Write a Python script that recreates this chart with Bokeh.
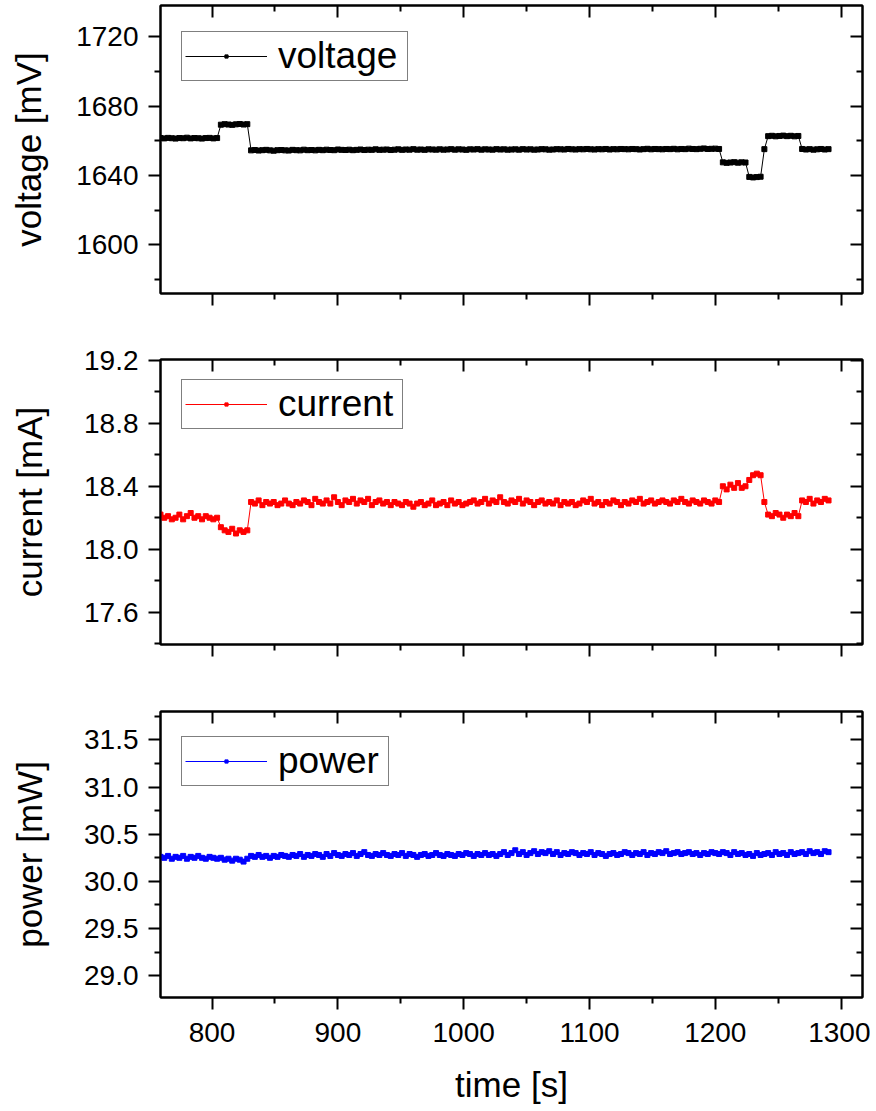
from bokeh.plotting import figure
from bokeh.models import (LinearAxis, FixedTicker, PrintfTickFormatter, CustomJSTickFormatter,
                          Range1d, Legend, LegendItem, ColumnDataSource)
from bokeh.layouts import column
from bokeh.embed import file_html
from bokeh.resources import INLINE

FONT = "Liberation Sans"

# ---------------- data ----------------
time_s = list(range(759, 1291, 3))  # sampling grid, 178 samples

voltage_mV = [
    1661.6, 1661.4, 1661.7, 1661.5, 1661.3, 1661.6, 1661.5, 1661.8, 1661.4, 1661.6, 1661.5, 1661.3, 1661.6, 1661.7, 1661.4, 1661.6,
    1669.3, 1669.6, 1669.4, 1669.2, 1669.5, 1669.7, 1669.4, 1669.6,
    1654.5, 1654.7, 1654.4, 1654.6, 1654.8, 1654.5, 1654.3, 1654.6, 1654.7, 1654.5,
    1654.4, 1654.8, 1654.6, 1654.5, 1654.9, 1654.6, 1654.7, 1654.5, 1654.8, 1654.6,
    1654.9, 1654.7, 1654.6, 1655.0, 1654.8, 1654.7, 1654.9, 1654.6, 1654.8, 1655.0,
    1654.7, 1654.9, 1654.8, 1655.1, 1654.8, 1654.9, 1655.0, 1654.7, 1654.9, 1655.1,
    1654.8, 1655.0, 1654.9, 1655.2, 1654.9, 1655.0, 1654.8, 1655.1, 1655.0, 1654.9,
    1655.1, 1654.9, 1655.0, 1655.2, 1654.9, 1655.1, 1655.0, 1654.8, 1655.1, 1655.0,
    1655.2, 1654.9, 1655.1, 1655.0, 1654.9, 1655.2, 1655.0, 1655.1, 1654.9, 1655.0,
    1655.1, 1654.9, 1655.2, 1655.0, 1655.1, 1654.9, 1655.0, 1655.2, 1655.1, 1654.9,
    1655.0, 1655.2, 1655.1, 1655.0, 1655.3, 1655.1, 1655.0, 1655.2, 1655.1, 1655.3,
    1655.1, 1655.0, 1655.2, 1655.1, 1655.3, 1655.0, 1655.2, 1655.1, 1655.3, 1655.2,
    1655.1, 1655.3, 1655.2, 1655.0, 1655.2, 1655.4, 1655.1, 1655.3, 1655.2, 1655.1,
    1655.3, 1655.2, 1655.4, 1655.1, 1655.3, 1655.2, 1655.5, 1655.3, 1655.2, 1655.4,
    1655.6, 1655.3, 1655.4, 1655.5, 1655.3,
    1647.6, 1647.3, 1647.5, 1647.7, 1647.4, 1647.6, 1647.5,
    1639.2, 1638.9, 1639.1, 1639.3,
    1655.2,
    1662.7, 1662.9, 1662.6, 1662.8, 1663.0, 1662.7, 1662.9, 1662.6, 1662.8,
    1655.3, 1655.0, 1655.2, 1654.9, 1655.1, 1655.3, 1655.0, 1655.2,
]

current_mA = [
    18.22, 18.20, 18.21, 18.19, 18.20, 18.22, 18.19, 18.21, 18.23, 18.20, 18.21, 18.19, 18.21, 18.20, 18.19, 18.20,
    18.14, 18.12, 18.11, 18.13, 18.10, 18.12, 18.11, 18.12,
    18.30, 18.29, 18.31, 18.28, 18.30, 18.29, 18.30, 18.28, 18.29, 18.31,
    18.29, 18.28, 18.30, 18.29, 18.31, 18.30, 18.28, 18.32, 18.30, 18.29,
    18.31, 18.29, 18.33, 18.30, 18.28, 18.31, 18.30, 18.32, 18.29, 18.31,
    18.30, 18.32, 18.28, 18.30, 18.31, 18.29, 18.30, 18.28, 18.30, 18.29,
    18.28, 18.30, 18.29, 18.27, 18.29, 18.30, 18.28, 18.29, 18.31, 18.28,
    18.29, 18.30, 18.28, 18.31, 18.29, 18.30, 18.28, 18.29, 18.30, 18.31,
    18.29, 18.30, 18.32, 18.29, 18.31, 18.30, 18.33, 18.30, 18.29, 18.31,
    18.30, 18.32, 18.29, 18.31, 18.30, 18.28, 18.30, 18.31, 18.29, 18.30,
    18.29, 18.31, 18.28, 18.30, 18.29, 18.30, 18.28, 18.29, 18.31, 18.30,
    18.32, 18.29, 18.30, 18.28, 18.30, 18.29, 18.31, 18.30, 18.28, 18.30,
    18.29, 18.31, 18.30, 18.32, 18.29, 18.30, 18.31, 18.29, 18.30, 18.31,
    18.30, 18.29, 18.31, 18.30, 18.32, 18.30, 18.29, 18.31, 18.30, 18.29,
    18.31, 18.30, 18.29, 18.31, 18.30,
    18.40, 18.38, 18.41, 18.39, 18.42, 18.39, 18.40,
    18.44, 18.47, 18.48, 18.47,
    18.30,
    18.22, 18.21, 18.23, 18.22, 18.20, 18.22, 18.21, 18.23, 18.21,
    18.31, 18.30, 18.32, 18.29, 18.31, 18.30, 18.32, 18.31,
]

power_mW = [
    30.26, 30.25, 30.27, 30.24, 30.26, 30.25, 30.27, 30.24, 30.26, 30.25,
    30.27, 30.25, 30.24, 30.26, 30.25, 30.24, 30.25, 30.23, 30.24, 30.22,
    30.24, 30.23, 30.21, 30.24, 30.27, 30.26, 30.28, 30.26, 30.27, 30.25,
    30.27, 30.26, 30.28, 30.27, 30.26, 30.28, 30.27, 30.29, 30.26, 30.28,
    30.27, 30.29, 30.28, 30.26, 30.29, 30.27, 30.30, 30.28, 30.27, 30.29,
    30.28, 30.30, 30.27, 30.29, 30.31, 30.28, 30.27, 30.29, 30.28, 30.30,
    30.28, 30.27, 30.29, 30.28, 30.30, 30.27, 30.29, 30.28, 30.26, 30.28,
    30.29, 30.27, 30.28, 30.30, 30.28, 30.27, 30.29, 30.28, 30.27, 30.29,
    30.28, 30.30, 30.29, 30.27, 30.29, 30.28, 30.30, 30.28, 30.29, 30.27,
    30.29, 30.31, 30.28, 30.30, 30.33, 30.29, 30.31, 30.28, 30.30, 30.32,
    30.29, 30.31, 30.30, 30.32, 30.29, 30.31, 30.28, 30.30, 30.29, 30.31,
    30.30, 30.28, 30.30, 30.29, 30.31, 30.28, 30.30, 30.29, 30.27, 30.29,
    30.30, 30.28, 30.29, 30.31, 30.30, 30.28, 30.30, 30.29, 30.31, 30.28,
    30.30, 30.29, 30.31, 30.30, 30.32, 30.29, 30.30, 30.31, 30.29, 30.30,
    30.31, 30.29, 30.30, 30.28, 30.30, 30.29, 30.31, 30.30, 30.29, 30.31,
    30.30, 30.28, 30.31, 30.29, 30.30, 30.28, 30.29, 30.27, 30.30, 30.28,
    30.29, 30.30, 30.28, 30.31, 30.29, 30.30, 30.28, 30.31, 30.29, 30.30,
    30.31, 30.29, 30.32, 30.30, 30.31, 30.29, 30.32, 30.31,
]

x_ticks = [800, 900, 1000, 1100, 1200, 1300]
x_minor = [850, 950, 1050, 1150, 1250]

v_ticks = [1600, 1640, 1680, 1720]
v_minor = [1580, 1620, 1660, 1700]
i_ticks = [17.6, 18.0, 18.4, 18.8, 19.2]
i_minor = [17.4, 17.8, 18.2, 18.6, 19.0]
p_ticks = [29.0, 29.5, 30.0, 30.5, 31.0, 31.5]
p_minor = [29.25, 29.75, 30.25, 30.75, 31.25, 31.75]

source = ColumnDataSource(dict(t=time_s, v=voltage_mV, i=current_mA, p=power_mW))


def blank_labels(ax):
    ax.formatter = CustomJSTickFormatter(code="return ''")
    ax.major_label_text_font_size = "0px"
    ax.major_label_standoff = 0


def style_axis(ax, ticks, minor, inward):
    ax.ticker = FixedTicker(ticks=ticks, minor_ticks=minor)
    ax.axis_line_width = 2
    ax.axis_line_color = "black"
    ax.major_tick_line_width = 2
    ax.minor_tick_line_width = 2
    ax.major_tick_line_color = "black"
    ax.minor_tick_line_color = "black"
    if inward:
        ax.major_tick_in, ax.major_tick_out = 12, 0
        ax.minor_tick_in, ax.minor_tick_out = 6, 0
    else:
        ax.major_tick_in, ax.major_tick_out = 0, 12
        ax.minor_tick_in, ax.minor_tick_out = 0, 6
    ax.major_label_text_font = FONT
    ax.major_label_text_font_size = "28px"
    ax.major_label_text_color = "black"
    ax.axis_label_text_font = FONT
    ax.axis_label_text_font_size = "35px"
    ax.axis_label_text_font_style = "normal"
    ax.axis_label_text_color = "black"


def panel(col, color, name, ylab, yr, yt, ym, height, tborder, bborder, leg_loc, leg_lw,
          lab_standoff, bottom):
    p = figure(width=870, height=height, x_range=Range1d(759, 1317), y_range=Range1d(*yr),
               output_backend="svg", toolbar_location=None,
               min_border_left=160, min_border_right=8, min_border_top=tborder,
               min_border_bottom=bborder)
    p.xgrid.visible = False
    p.ygrid.visible = False
    p.outline_line_color = "black"
    p.outline_line_width = 2
    p.background_fill_color = "white"

    xa = p.xaxis[0]
    style_axis(xa, x_ticks, x_minor, inward=False)
    if bottom:
        xa.axis_label = "time [s]"
        xa.major_label_standoff = 13
        xa.axis_label_standoff = 20
    else:
        blank_labels(xa)

    ya = p.yaxis[0]
    style_axis(ya, yt, ym, inward=False)
    ya.axis_label = ylab
    ya.formatter = PrintfTickFormatter(format="%.1f") if isinstance(yt[0], float) else PrintfTickFormatter(format="%d")
    ya.major_label_standoff = 10
    ya.axis_label_standoff = lab_standoff

    top = LinearAxis()
    style_axis(top, x_ticks, x_minor, inward=True)
    blank_labels(top)
    p.add_layout(top, "above")

    right = LinearAxis()
    style_axis(right, yt, ym, inward=True)
    blank_labels(right)
    p.add_layout(right, "right")

    r_line = p.line("t", col, source=source, color=color, line_width=1)
    r_pts = p.scatter("t", col, source=source, marker="square", size=5, color=color)

    legend = Legend(items=[LegendItem(label=name, renderers=[r_line, r_pts])], location=leg_loc,
                    label_text_font=FONT, label_text_font_size="37px", label_text_color="black",
                    glyph_width=82, glyph_height=8, label_standoff=11, padding=3, margin=0,
                    label_width=leg_lw,
                    border_line_color="black", border_line_width=1, background_fill_alpha=1.0)
    p.add_layout(legend)
    return p


p1 = panel("v", "black", "voltage", "voltage [mV]", (1572, 1738), v_ticks, v_minor,
           345, 5, 52, (21, 212), 126, 25, False)
p2 = panel("i", "red", "current", "current [mA]", (17.395, 19.205), i_ticks, i_minor,
           352, 14, 53, (21, 215), 121, 32, False)
p3 = panel("p", "blue", "power", "power [mW]", (28.77, 31.8), p_ticks, p_minor,
           411, 14, 111, (21, 211), 107, 32, True)

layout = column(p1, p2, p3, spacing=0)
open("out.html", "w").write(file_html(layout, INLINE))
